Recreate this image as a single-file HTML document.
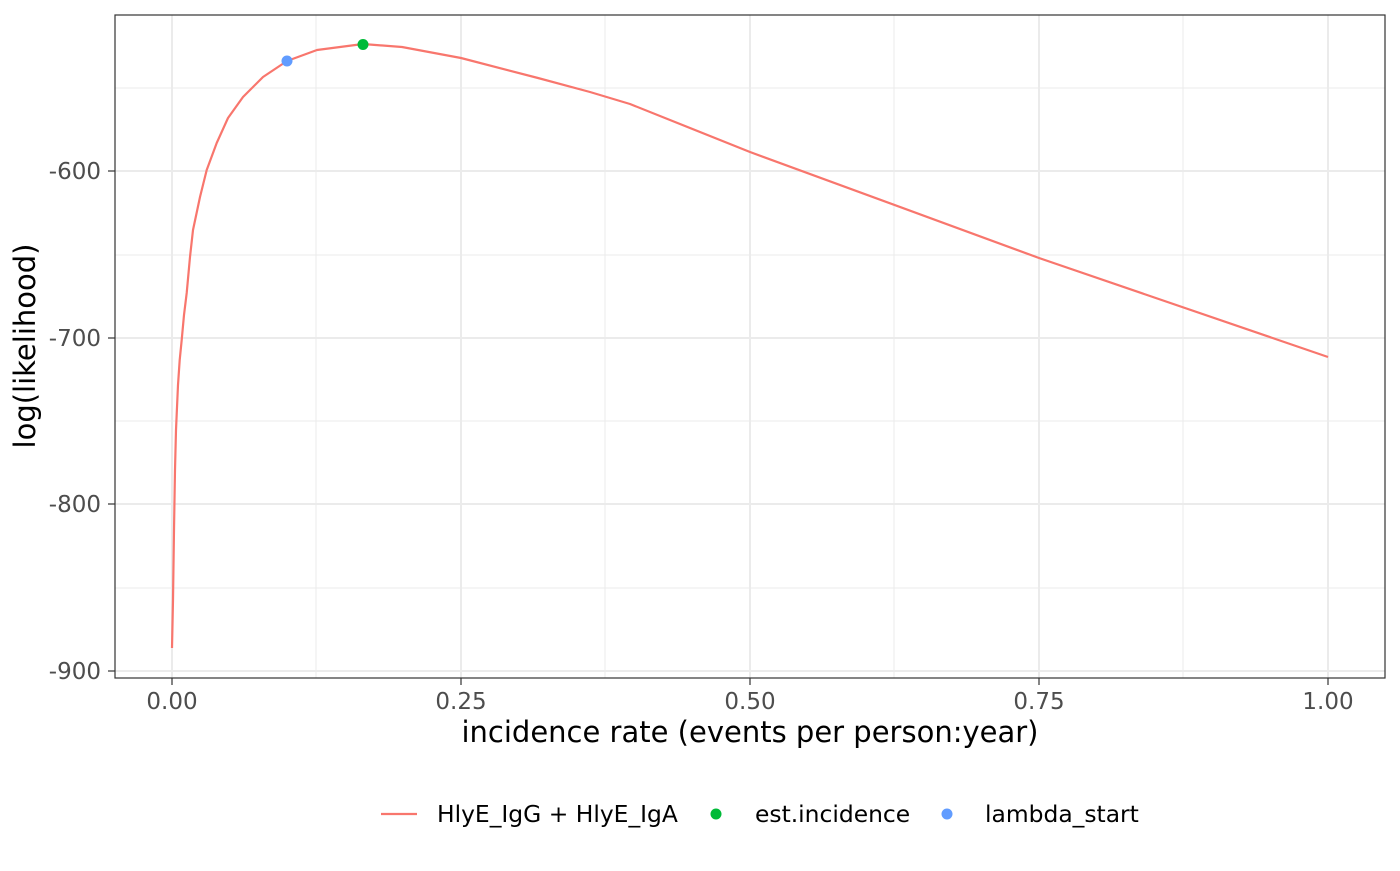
<!DOCTYPE html>
<html><head><style>body{margin:0;background:#fff}</style></head><body>
<svg width="1400" height="866" xmlns="http://www.w3.org/2000/svg" font-family="DejaVu Sans, Liberation Sans, sans-serif">
<rect width="1400" height="866" fill="#fff"/>
<g stroke="#ebebeb" stroke-width="1">
<line x1="115" x2="1385" y1="88" y2="88"/><line x1="115" x2="1385" y1="255" y2="255"/>
<line x1="115" x2="1385" y1="421" y2="421"/><line x1="115" x2="1385" y1="588" y2="588"/>
<line x1="316" x2="316" y1="15" y2="678"/><line x1="605" x2="605" y1="15" y2="678"/>
<line x1="894" x2="894" y1="15" y2="678"/><line x1="1183" x2="1183" y1="15" y2="678"/>
</g>
<g stroke="#ebebeb" stroke-width="2">
<line x1="115" x2="1385" y1="171" y2="171"/><line x1="115" x2="1385" y1="338" y2="338"/>
<line x1="115" x2="1385" y1="504" y2="504"/><line x1="115" x2="1385" y1="671" y2="671"/>
<line x1="172" x2="172" y1="15" y2="678"/><line x1="461" x2="461" y1="15" y2="678"/>
<line x1="750" x2="750" y1="15" y2="678"/><line x1="1039" x2="1039" y1="15" y2="678"/>
<line x1="1328" x2="1328" y1="15" y2="678"/>
</g>
<polyline fill="none" stroke="#F8766D" stroke-width="2.2" stroke-linejoin="round" points="172,648 173,600 174,530 175,470 176,430 178,385 179.7,360 181.7,340 184,315 186.7,293 190,257 193,230 200,197 206.7,170 216.7,143 228,118 243,97 263,77 287,61 317,50 363,44 402,47 461,58 538,78 590,92 630,104 750,152 1039,258 1328,357"/>
<circle cx="287" cy="61" r="5.5" fill="#619CFF"/>
<circle cx="363" cy="44.5" r="5.5" fill="#00BA38"/>
<rect x="115" y="15" width="1270" height="663" fill="none" stroke="#333" stroke-width="1.2"/>
<g stroke="#333" stroke-width="1.2">
<line x1="108" x2="115" y1="171" y2="171"/><line x1="108" x2="115" y1="338" y2="338"/>
<line x1="108" x2="115" y1="504" y2="504"/><line x1="108" x2="115" y1="671" y2="671"/>
<line x1="172" x2="172" y1="678" y2="685"/><line x1="461" x2="461" y1="678" y2="685"/>
<line x1="750" x2="750" y1="678" y2="685"/><line x1="1039" x2="1039" y1="678" y2="685"/>
<line x1="1328" x2="1328" y1="678" y2="685"/>
</g>
<g fill="#4d4d4d" font-size="23" text-anchor="end">
<text x="101" y="179">-600</text><text x="101" y="346">-700</text>
<text x="101" y="512">-800</text><text x="101" y="679">-900</text>
</g>
<g fill="#4d4d4d" font-size="23" text-anchor="middle">
<text x="172" y="709">0.00</text><text x="461" y="709">0.25</text><text x="750" y="709">0.50</text>
<text x="1039" y="709">0.75</text><text x="1328" y="709">1.00</text>
</g>
<text x="750" y="742" font-size="29" text-anchor="middle" fill="#000">incidence rate (events per person:year)</text>
<text transform="translate(35,346) rotate(-90)" font-size="29" text-anchor="middle" fill="#000">log(likelihood)</text>
<line x1="381" x2="417" y1="814" y2="814" stroke="#F8766D" stroke-width="2.2"/>
<text x="437" y="822" font-size="23.4" fill="#000">HlyE_IgG + HlyE_IgA</text>
<circle cx="716" cy="814" r="5.5" fill="#00BA38"/>
<text x="755" y="822" font-size="23.4" fill="#000">est.incidence</text>
<circle cx="947" cy="814" r="5.5" fill="#619CFF"/>
<text x="985" y="822" font-size="23.4" fill="#000">lambda_start</text>
</svg>
</body></html>
